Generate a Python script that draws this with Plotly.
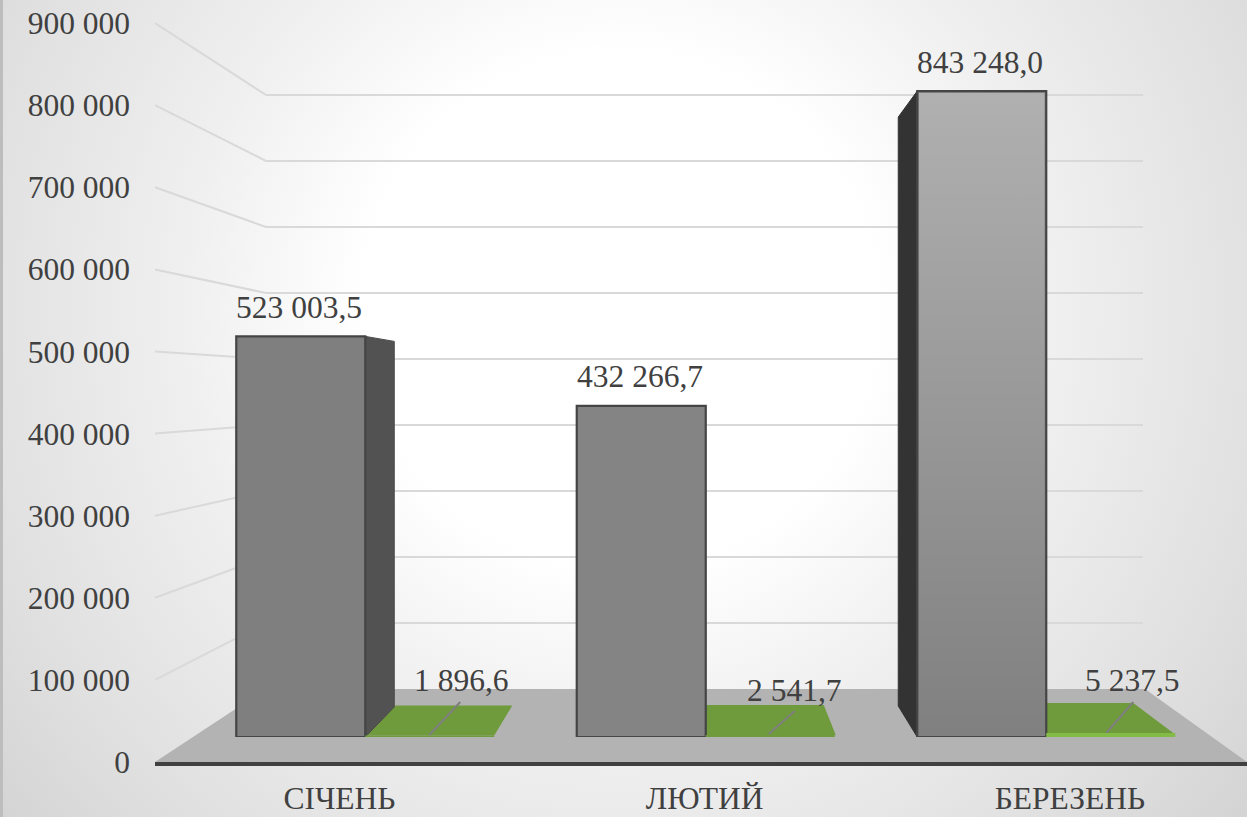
import base64
import plotly.graph_objects as go

# ---------- data ----------
MONTHS = ["СІЧЕНЬ", "ЛЮТИЙ", "БЕРЕЗЕНЬ"]
SERIES_GREY = [523003.5, 432266.7, 843248.0]
SERIES_GREEN = [1896.6, 2541.7, 5237.5]
LABELS_GREY = ["523 003,5", "432 266,7", "843 248,0"]
LABELS_GREEN = ["1 896,6", "2 541,7", "5 237,5"]
Y_TICKS = [0, 100000, 200000, 300000, 400000, 500000, 600000, 700000, 800000, 900000]
Y_TICK_TEXT = ["0", "100 000", "200 000", "300 000", "400 000", "500 000",
               "600 000", "700 000", "800 000", "900 000"]

# ---------- geometry of the fake 3-D scene (picture pixels) ----------
W, H = 1247, 817
FONT = "Liberation Serif"
TXT = "#404040"
FS = 31.5
YMAX = 900000
YTOP = 910000

FRONT_X0, FRONT_Y0, FRONT_PX = 155, 762, 82.1 / 100000
BACK_X0, BACK_X1, BACK_Y0, BACK_PX = 266, 1143, 689, 66.0 / 100000
BAR_Y0, BAR_PX = 737, 76.6 / 100000
BAND0, BAND, BAR_W = 195.0, 340.5, 129.0


def dom_y(px_bottom, px_top):
    return [(H - px_bottom) / H, (H - px_top) / H]


def bar_top(v):
    return BAR_Y0 - v * BAR_PX


def group_mid(i):
    return BAND0 + BAND * (i + 0.5)


fig = go.Figure()

# --- back wall: only gridlines, from the axis
fig.add_trace(go.Scatter(x=[0], y=[0], mode="lines", xaxis="x", yaxis="y",
                         hoverinfo="skip", showlegend=False))

# --- decoration in picture pixels, computed from the values
px = dict(xaxis="x2", yaxis="y2", hoverinfo="skip", showlegend=False)
# floor
fig.add_trace(go.Scatter(x=[FRONT_X0, BACK_X0, BACK_X1 + 2, W, FRONT_X0],
                         y=[FRONT_Y0, BACK_Y0, BACK_Y0, FRONT_Y0, FRONT_Y0],
                         mode="lines", fill="toself", fillcolor="#b3b3b3",
                         line=dict(width=0, color="#b3b3b3"), **px))
# side wall gridlines
for t in Y_TICKS[1:]:
    fig.add_trace(go.Scatter(x=[FRONT_X0, BACK_X0],
                             y=[FRONT_Y0 - t * FRONT_PX, BACK_Y0 - t * BACK_PX],
                             mode="lines", line=dict(color="#d9d9d9", width=2), **px))

# green top faces: (back-left dx, back-right dx, front-right dx) from the bar's front corners
GREEN_FACE = [(30, 147, 129), (0, 118, 130), (0, 87, 127)]
for i, v in enumerate(SERIES_GREEN):
    x0 = group_mid(i)
    top = bar_top(v)
    a, b, c = GREEN_FACE[i]
    fig.add_trace(go.Scatter(x=[x0, x0 + a, x0 + b, x0 + c, x0],
                             y=[top, top - 30, top - 30, top, top],
                             mode="lines", fill="toself", fillcolor="#6f9b3c",
                             line=dict(width=0, color="#6f9b3c"), **px))

# side faces of the first and third grey bars
t0 = bar_top(SERIES_GREY[0])
m0 = group_mid(0)
fig.add_trace(go.Scatter(x=[m0, m0 + 29, m0 + 29, m0, m0],
                         y=[t0, t0 + 5, BAR_Y0 - 30, BAR_Y0, t0],
                         mode="lines", fill="toself", fillcolor="#525252",
                         line=dict(width=1, color="#4a4a4a"), **px))
t2 = bar_top(SERIES_GREY[2])
l2 = group_mid(2) - BAR_W
fig.add_trace(go.Scatter(x=[l2, l2 - 19, l2 - 19, l2, l2],
                         y=[t2, t2 + 26, BAR_Y0 - 31, BAR_Y0, t2],
                         mode="lines", fill="toself", fillcolor="#333333",
                         line=dict(width=1, color="#333333"), **px))

# leader lines of the green labels (offsets from the green bar's front-left corner)
LEADER = [((64, -2), (95, -35)), ((63, -3), (89, -26)), ((60, -4), (87, -35))]
for i, ((ax, ay), (bx, by)) in enumerate(LEADER):
    x0 = group_mid(i)
    fig.add_trace(go.Scatter(x=[x0 + ax, x0 + bx], y=[BAR_Y0 + ay, BAR_Y0 + by],
                             mode="lines", line=dict(color="#7f7f7f", width=2), **px))

# --- the real bars
GREY_COLOURS = ["#7f7f7f", "#848484", "#808080"]
GREEN_COLOURS = ["#6f9b3c", "#6f9b3c", "#82bb45"]
fig.add_trace(go.Bar(x=MONTHS, y=SERIES_GREY, xaxis="x3", yaxis="y3", showlegend=False,
                     marker=dict(color=GREY_COLOURS, line=dict(color="#454545", width=2.2)),
                     hoverinfo="skip"))
fig.add_trace(go.Bar(x=MONTHS, y=SERIES_GREEN, xaxis="x3", yaxis="y3", showlegend=False,
                     marker=dict(color=GREEN_COLOURS, line=dict(width=0)),
                     hoverinfo="skip"))

# --- front axis: tick labels and the heavy base line
fig.add_trace(go.Scatter(x=MONTHS, y=[0, 0, 0], mode="lines", xaxis="x4", yaxis="y4",
                         line=dict(width=0), hoverinfo="skip", showlegend=False))

# --- value labels
ann = []
for i, v in enumerate(SERIES_GREY):
    ann.append(dict(xref="x2", yref="y2", x=group_mid(i) - BAR_W / 2 - 1.5, y=bar_top(v) - 29,
                    text=LABELS_GREY[i], showarrow=False))
GREEN_LABEL = [(96, 680), (89, 690), (86, 680)]
for i, (dx, y) in enumerate(GREEN_LABEL):
    ann.append(dict(xref="x2", yref="y2", x=group_mid(i) + dx, y=y,
                    text=LABELS_GREEN[i], showarrow=False))
for a in ann:
    a.update(font=dict(family=FONT, size=FS, color=TXT), xanchor="center", yanchor="middle")


def data_uri(svg):
    return "data:image/svg+xml;base64," + base64.b64encode(svg.encode()).decode()


bg_svg = f"""<svg xmlns="http://www.w3.org/2000/svg" width="{W}" height="{H}">
<defs><radialGradient id="g" gradientUnits="userSpaceOnUse" cx="620" cy="310" r="860">
<stop offset="0.3" stop-color="#ffffff"/><stop offset="0.5" stop-color="#f0f0f0"/>
<stop offset="0.78" stop-color="#dfdfdf"/><stop offset="1" stop-color="#cfcfcf"/>
</radialGradient></defs>
<rect width="{W}" height="{H}" fill="url(#g)"/>
<rect width="3" height="{H}" fill="#bdbdbd"/></svg>"""

h3 = BAR_Y0 - t2 - 3
sheen_svg = f"""<svg xmlns="http://www.w3.org/2000/svg" width="126" height="{int(h3)}">
<defs><linearGradient id="s" x1="0" y1="0" x2="0" y2="1">
<stop offset="0" stop-color="#ffffff" stop-opacity="0.38"/>
<stop offset="1" stop-color="#ffffff" stop-opacity="0"/></linearGradient></defs>
<rect width="126" height="{int(h3)}" fill="url(#s)"/></svg>"""

images = [
    dict(source=data_uri(bg_svg), xref="paper", yref="paper", x=0, y=1, sizex=1, sizey=1,
         xanchor="left", yanchor="top", sizing="stretch", layer="below"),
    dict(source=data_uri(sheen_svg), xref="x2", yref="y2", x=l2 + 1.5, y=t2 + 1.5,
         sizex=126, sizey=h3, xanchor="left", yanchor="top", sizing="stretch", layer="above"),
]

hidden = dict(visible=False, fixedrange=True, automargin=False)
fig.update_layout(
    width=W, height=H, margin=dict(l=0, r=0, t=0, b=0), autosize=False,
    paper_bgcolor="#ffffff", plot_bgcolor="rgba(0,0,0,0)",
    barmode="group", bargap=(BAND - 2 * BAR_W) / BAND, bargroupgap=0,
    font=dict(family=FONT, size=FS, color=TXT),
    annotations=ann, images=images, showlegend=False,
    # wall
    xaxis=dict(domain=[BACK_X0 / W, BACK_X1 / W], range=[0, 1], anchor="y", **hidden),
    yaxis=dict(domain=dom_y(BACK_Y0, BACK_Y0 - YTOP * BACK_PX), range=[0, YTOP], anchor="x",
               tickvals=Y_TICKS, showticklabels=False, ticks="", showline=False, automargin=False,
               showgrid=True, gridcolor="#d9d9d9", gridwidth=2, zeroline=False),
    # picture pixels
    xaxis2=dict(domain=[0, 1], range=[0, W], anchor="y2", **hidden),
    yaxis2=dict(domain=[0, 1], range=[H, 0], anchor="x2", **hidden),
    # bars
    xaxis3=dict(domain=[BAND0 / W, (BAND0 + 3 * BAND) / W], type="category",
                categoryorder="array", categoryarray=MONTHS, anchor="y3", **hidden),
    yaxis3=dict(domain=dom_y(BAR_Y0, BAR_Y0 - YMAX * BAR_PX), range=[0, YMAX], anchor="x3",
                **hidden),
    # front axis
    xaxis4=dict(domain=[FRONT_X0 / W, 1], type="category", range=[-0.505, 2.485], automargin=False,
                categoryorder="array", categoryarray=MONTHS, anchor="y4", fixedrange=True,
                showline=True, linecolor="#404040", linewidth=4, ticks="", showgrid=False,
                zeroline=False, ticklabelstandoff=5,
                tickfont=dict(family=FONT, size=FS, color=TXT)),
    yaxis4=dict(domain=dom_y(FRONT_Y0, FRONT_Y0 - YMAX * FRONT_PX), range=[0, YMAX], anchor="x4",
                tickvals=Y_TICKS, ticktext=Y_TICK_TEXT, ticks="", showline=False, showgrid=False,
                zeroline=False, fixedrange=True, ticklabelstandoff=24, automargin=False,
                tickfont=dict(family=FONT, size=FS, color=TXT)),
)

fig.write_html("out.html", config={"displayModeBar": False},
               post_script="document.body.style.margin='0';document.body.style.overflow='hidden';")
